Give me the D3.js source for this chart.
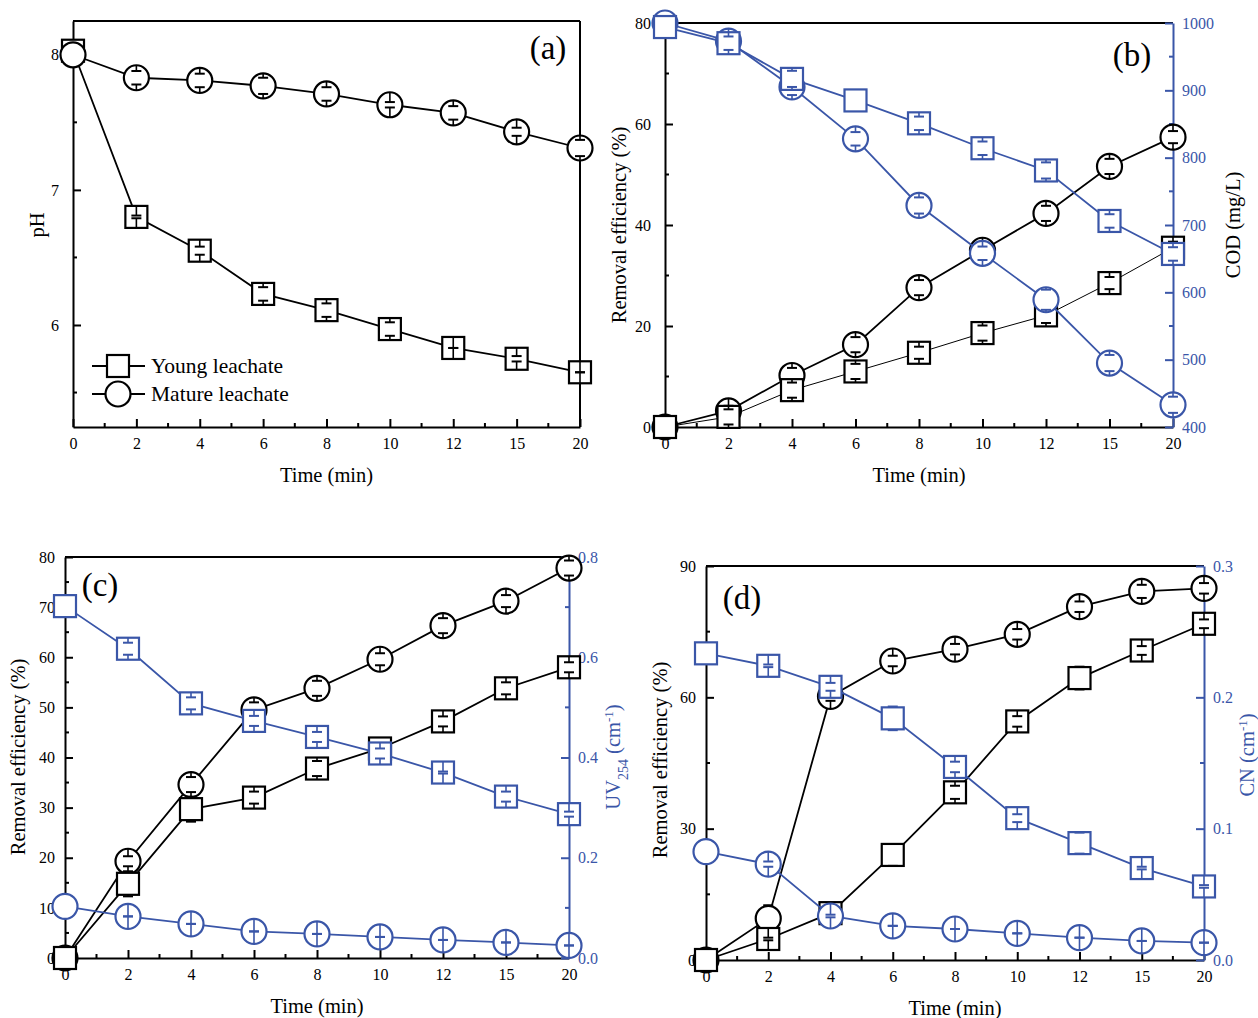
<!DOCTYPE html>
<html>
<head>
<meta charset="utf-8">
<script src="https://cdn.jsdelivr.net/npm/d3@7"></script>
<style>
  body { margin: 0; background: #fff; }
  svg, svg text { font-family: "Liberation Serif", "Times New Roman", serif; }
</style>
</head>
<body>
<div id="chart"></div>
<script>
const times = ["0", "2", "4", "6", "8", "10", "12", "15", "20"];

// (a) pH
const phYoung = [8.03, 6.80, 6.55, 6.23, 6.11, 5.97, 5.83, 5.75, 5.65];
const phYoungErr = [null, 0.01, 0.03, 0.05, 0.05, 0.05, 0.0, 0.02, 0.0];
const phMature = [8.00, 7.83, 7.81, 7.77, 7.71, 7.63, 7.57, 7.43, 7.31];
const phMatureErr = [null, 0.05, 0.05, 0.06, 0.05, 0.02, 0.05, 0.03, 0.06];

// (b) COD
const codRemYoung = [0, 2.0, 7.3, 11.0, 14.7, 18.6, 22.1, 28.5, 35.5];
const codRemYoungErr = [null, 1.5, 1.5, 1.5, 1.2, 1.5, 1.5, 1.2, 1.2];
const codRemMature = [0, 3.2, 10.2, 16.3, 27.6, 35.0, 42.3, 51.6, 57.4];
const codRemMatureErr = [null, 1.0, 1.5, 1.5, 1.5, 1.0, 1.5, 1.5, 1.2];
const codYoung = [994, 970, 917, 885, 851, 814, 781, 706, 657];
const codYoungErr = [null, 10, 12, null, 10, 10, 12, 10, 10];
const codMature = [1000, 973, 905, 828, 729, 658, 589, 495, 433];
const codMatureErr = [null, 10, 12, 10, 12, 10, 15, 12, 12];

// (c) UV254
const uvRemYoung = [0, 14.8, 29.7, 32.0, 37.8, 41.8, 47.2, 53.8, 58.0];
const uvRemYoungErr = [null, 2.5, 2.5, 1.2, 1.5, null, 1.0, 1.2, 1.0];
const uvRemMature = [0, 19.3, 34.6, 49.5, 53.8, 59.6, 66.3, 71.2, 77.8];
const uvRemMatureErr = [null, 1.0, 1.5, 1.5, 1.5, 1.2, 1.5, 1.2, 1.5];
const uvYoung = [0.702, 0.617, 0.508, 0.473, 0.441, 0.408, 0.370, 0.322, 0.287];
const uvYoungErr = [null, 0.012, 0.012, 0.01, 0.01, 0.01, 0.002, 0.01, 0.005];
const uvMature = [0.103, 0.083, 0.068, 0.053, 0.048, 0.042, 0.036, 0.031, 0.025];
const uvMatureErr = [null, 0, 0, 0, 0, 0, 0, 0, 0];

// (d) CN
const cnRemYoung = [0, 4.8, 10.7, 24.0, 38.3, 54.5, 64.4, 70.7, 76.8];
const cnRemYoungErr = [null, 0.3, null, 2.5, 1.5, 1.2, 2.6, 1.0, 1.0];
const cnRemMature = [0, 9.5, 60.2, 68.3, 71.0, 74.4, 80.7, 84.2, 84.9];
const cnRemMatureErr = [null, 3.0, 1.0, 1.2, 1.2, 1.2, 1.2, 1.5, 1.2];
const cnYoung = [0.2335, 0.224, 0.208, 0.184, 0.147, 0.108, 0.089, 0.070, 0.056];
const cnYoungErr = [null, 0.001, 0.003, 0.009, 0.004, 0.003, 0.008, 0.001, 0.001];
const cnMature = [0.0825, 0.073, 0.0335, 0.026, 0.0236, 0.0203, 0.017, 0.0145, 0.0132];
const cnMatureErr = [null, 0.002, 0.001, 0, 0, 0, 0, 0, 0];

const blue = "#3a56a8";
const black = "#000";
const serif = "'Liberation Serif', 'Times New Roman', serif";

const svg = d3.select("#chart").append("svg")
  .attr("width", 1258)
  .attr("height", 1018);

function styleAxis(a, color) {
  a.attr("font-family", serif).attr("font-size", 16);
  a.select(".domain").attr("stroke", color).attr("stroke-width", 2);
  a.selectAll(".tick line").attr("stroke", color).attr("stroke-width", 2);
  a.selectAll(".tick text").attr("fill", color);
}

function drawPanel(p) {
  const g = svg.append("g");
  const x = d3.scalePoint().domain(times).range([p.x0, p.x1]);
  const yL = d3.scaleLinear().domain(p.left.domain).range([p.y0, p.y1]);
  const yR = p.right ? d3.scaleLinear().domain(p.right.domain).range([p.y0, p.y1]) : null;

  // frame top (and right when single axis)
  g.append("line").attr("x1", p.x0).attr("x2", p.x1).attr("y1", p.y1).attr("y2", p.y1)
    .attr("stroke", black).attr("stroke-width", 2);
  if (!p.right) {
    g.append("line").attr("x1", p.x1).attr("x2", p.x1).attr("y1", p.y0).attr("y2", p.y1)
      .attr("stroke", black).attr("stroke-width", 2);
  }

  // x axis
  const xa = g.append("g").attr("transform", `translate(0,${p.y0})`)
    .call(d3.axisBottom(x).tickSizeInner(-8).tickSizeOuter(0).tickPadding(11));
  styleAxis(xa, black);
  const mids = d3.pairs(times).map(([a, b]) => (x(a) + x(b)) / 2);
  g.selectAll(null).data(mids).enter().append("line")
    .attr("x1", d => d).attr("x2", d => d).attr("y1", p.y0).attr("y2", p.y0 - 4)
    .attr("stroke", black).attr("stroke-width", 2);

  // left axis
  const la = g.append("g").attr("transform", `translate(${p.x0},0)`)
    .call(d3.axisLeft(yL).tickValues(p.left.ticks).tickFormat(d3.format("d"))
      .tickSizeInner(-8).tickSizeOuter(0).tickPadding(p.left.pad));
  styleAxis(la, black);
  g.selectAll(null).data(p.left.minor).enter().append("line")
    .attr("x1", p.x0).attr("x2", p.x0 + 4).attr("y1", d => yL(d)).attr("y2", d => yL(d))
    .attr("stroke", black).attr("stroke-width", 2);

  if (p.right) {
    const ra = g.append("g").attr("transform", `translate(${p.x1},0)`)
      .call(d3.axisRight(yR).tickValues(p.right.ticks).tickFormat(p.right.fmt)
        .tickSizeInner(-8).tickSizeOuter(0).tickPadding(9));
    styleAxis(ra, blue);
    g.selectAll(null).data(p.right.minor).enter().append("line")
      .attr("x1", p.x1).attr("x2", p.x1 - 4).attr("y1", d => yR(d)).attr("y2", d => yR(d))
      .attr("stroke", blue).attr("stroke-width", 2);
  }

  // series
  p.series.forEach(s => {
    const y = s.axis === "right" ? yR : yL;
    const pts = times.map((t, i) => ({
      x: x(t), y: y(s.values[i]),
      e: s.err[i] == null ? null : Math.abs(y(s.values[i] + s.err[i]) - y(s.values[i]))
    }));
    const sg = g.append("g");
    sg.append("path")
      .attr("d", d3.line().x(d => d.x).y(d => d.y)(pts))
      .attr("fill", "none").attr("stroke", s.color).attr("stroke-width", s.lw || 1.8);
    const h = s.shape === "square" ? 11 : 12.5;
    if (s.shape === "square") {
      sg.selectAll(null).data(pts).enter().append("rect")
        .attr("x", d => d.x - h).attr("y", d => d.y - h)
        .attr("width", 2 * h).attr("height", 2 * h)
        .attr("fill", "#fff").attr("stroke", s.color).attr("stroke-width", 2.2);
    } else {
      sg.selectAll(null).data(pts).enter().append("circle")
        .attr("cx", d => d.x).attr("cy", d => d.y).attr("r", h)
        .attr("fill", "#fff").attr("stroke", s.color).attr("stroke-width", 2.2);
    }
    // error bars: segment from marker edge to cap, plus cap
    pts.filter(d => d.e != null).forEach(d => {
      [-1, 1].forEach(dir => {
        sg.append("line")
          .attr("x1", d.x).attr("x2", d.x)
          .attr("y1", d.y + dir * h).attr("y2", d.y + dir * d.e)
          .attr("stroke", s.color).attr("stroke-width", 1.6);
        sg.append("line")
          .attr("x1", d.x - 5).attr("x2", d.x + 5)
          .attr("y1", d.y + dir * d.e).attr("y2", d.y + dir * d.e)
          .attr("stroke", s.color).attr("stroke-width", 2);
      });
    });
  });

  // titles
  g.append("text").attr("x", (p.x0 + p.x1) / 2).attr("y", p.y0 + 55)
    .attr("text-anchor", "middle").style("font-size", "20.5px").text("Time (min)");
  g.append("text")
    .attr("transform", `translate(${p.left.tx},${p.left.ty}) rotate(-90)`)
    .attr("text-anchor", "middle").style("font-size", "20.5px")
    .text(p.left.title);
  if (p.right) {
    const rt = g.append("text")
      .attr("transform", `translate(${p.right.tx},${p.right.ty}) rotate(-90)`)
      .attr("text-anchor", "middle").style("font-size", "20.5px")
      .attr("fill", p.right.titleColor);
    p.right.title(rt);
  }
  g.append("text").attr("x", p.label[0]).attr("y", p.label[1])
    .attr("text-anchor", "middle").style("font-size", "33px").text(p.label[2]);
  return { x, yL, yR, g };
}

const fmt1 = d3.format(".1f");

// (a)
const pa = drawPanel({
  x0: 73, x1: 580, y0: 427, y1: 21,
  left: { domain: [5.245, 8.25], ticks: [6, 7, 8], minor: [5.5, 6.5, 7.5], pad: 14,
    title: "pH", tx: 44, ty: 225 },
  series: [
    { values: phYoung, err: phYoungErr, shape: "square", color: black },
    { values: phMature, err: phMatureErr, shape: "circle", color: black }
  ],
  label: [548, 59, "(a)"]
});

// legend for (a)
const legend = pa.g.append("g");
[["Young leachate", "square", 366], ["Mature leachate", "circle", 394]].forEach(([name, shape, ly]) => {
  legend.append("line").attr("x1", 92).attr("x2", 145).attr("y1", ly).attr("y2", ly)
    .attr("stroke", black).attr("stroke-width", 1.8);
  if (shape === "square") {
    legend.append("rect").attr("x", 107).attr("y", ly - 11).attr("width", 22).attr("height", 22)
      .attr("fill", "#fff").attr("stroke", black).attr("stroke-width", 2.2);
  } else {
    legend.append("circle").attr("cx", 118).attr("cy", ly).attr("r", 12.5)
      .attr("fill", "#fff").attr("stroke", black).attr("stroke-width", 2.2);
  }
  legend.append("text").attr("x", 151).attr("y", ly + 7).style("font-size", "21.5px").text(name);
});

// (b)
drawPanel({
  x0: 665, x1: 1173, y0: 427, y1: 23,
  left: { domain: [0, 80], ticks: [0, 20, 40, 60, 80], minor: [10, 30, 50, 70], pad: 14,
    title: "Removal efficiency (%)", tx: 626, ty: 225 },
  right: { domain: [400, 1000], ticks: d3.range(400, 1001, 100), minor: d3.range(450, 1000, 100),
    fmt: d3.format("d"), titleColor: black, tx: 1240, ty: 225,
    title: t => t.text("COD (mg/L)") },
  series: [
    { values: codRemMature, err: codRemMatureErr, shape: "circle", color: black },
    { values: codRemYoung, err: codRemYoungErr, shape: "square", color: black, lw: 1 },
    { values: codMature, err: codMatureErr, shape: "circle", color: blue, axis: "right" },
    { values: codYoung, err: codYoungErr, shape: "square", color: blue, axis: "right" }
  ],
  label: [1132, 66, "(b)"]
});

// (c)
drawPanel({
  x0: 65, x1: 569, y0: 958, y1: 557,
  left: { domain: [0, 80], ticks: d3.range(0, 81, 10), minor: d3.range(5, 80, 10), pad: 10,
    title: "Removal efficiency (%)", tx: 25, ty: 757 },
  right: { domain: [0, 0.8], ticks: [0, 0.2, 0.4, 0.6, 0.8], minor: [0.1, 0.3, 0.5, 0.7],
    fmt: fmt1, titleColor: blue, tx: 620, ty: 757,
    title: t => {
      t.append("tspan").text("UV");
      t.append("tspan").attr("baseline-shift", "sub").style("font-size", "14px").text("254");
      t.append("tspan").text(" (cm");
      t.append("tspan").attr("baseline-shift", "super").style("font-size", "13px").text("-1");
      t.append("tspan").text(")");
    } },
  series: [
    { values: uvRemMature, err: uvRemMatureErr, shape: "circle", color: black },
    { values: uvRemYoung, err: uvRemYoungErr, shape: "square", color: black },
    { values: uvMature, err: uvMatureErr, shape: "circle", color: blue, axis: "right" },
    { values: uvYoung, err: uvYoungErr, shape: "square", color: blue, axis: "right" }
  ],
  label: [100, 596, "(c)"]
});

// (d)
drawPanel({
  x0: 706, x1: 1204, y0: 960, y1: 566,
  left: { domain: [0, 90], ticks: [0, 30, 60, 90], minor: [15, 45, 75], pad: 10,
    title: "Removal efficiency (%)", tx: 667, ty: 760 },
  right: { domain: [0, 0.3], ticks: [0, 0.1, 0.2, 0.3], minor: [0.05, 0.15, 0.25],
    fmt: fmt1, titleColor: blue, tx: 1254, ty: 755,
    title: t => {
      t.append("tspan").text("CN (cm");
      t.append("tspan").attr("baseline-shift", "super").style("font-size", "13px").text("-1");
      t.append("tspan").text(")");
    } },
  series: [
    { values: cnRemMature, err: cnRemMatureErr, shape: "circle", color: black },
    { values: cnRemYoung, err: cnRemYoungErr, shape: "square", color: black },
    { values: cnMature, err: cnMatureErr, shape: "circle", color: blue, axis: "right" },
    { values: cnYoung, err: cnYoungErr, shape: "square", color: blue, axis: "right" }
  ],
  label: [742, 609, "(d)"]
});
</script>
</body>
</html>
